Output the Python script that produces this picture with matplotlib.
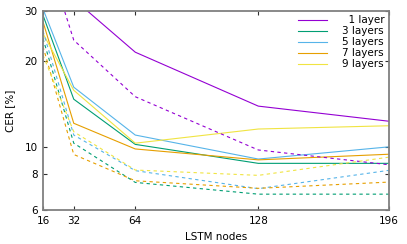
import matplotlib
matplotlib.use("Agg")
import matplotlib.pyplot as plt
from matplotlib.ticker import FixedLocator, NullLocator, FixedFormatter

# LSTM node counts on the x axis
nodes = [16, 32, 64, 128, 196]

# solid lines (one per depth)
cer_1 = [60.0, 33.0, 21.5, 13.9, 12.3]
cer_3 = [29.0, 14.7, 10.2, 8.75, 8.75]
cer_5 = [30.5, 16.2, 11.0, 9.06, 10.0]
cer_7 = [27.5, 12.1, 9.83, 9.0, 9.42]
cer_9 = [25.0, 15.8, 10.3, 11.55, 11.86]

# dashed lines
cer_1d = [52.0, 23.7, 15.0, 9.75, 8.65]
cer_3d = [24.0, 10.3, 7.5, 6.82, 6.82]
cer_5d = [25.5, 11.0, 8.25, 7.13, 8.27]
cer_7d = [22.5, 9.4, 7.6, 7.15, 7.52]
cer_9d = [21.0, 11.3, 8.29, 7.94, 9.2]

labels = ["  1 layer", "3 layers", "5 layers", "7 layers", "9 layers"]
colors = ["#9400d3", "#009e73", "#56b4e9", "#e69f00", "#f0e442"]

yticks = [6, 8, 10, 20, 30]

fig = plt.figure(figsize=(4.07, 2.44), dpi=100)
ax = fig.add_axes([43 / 407, 1 - 210 / 244, 346 / 407, 199 / 244])

solid = [cer_1, cer_3, cer_5, cer_7, cer_9]
dashed = [cer_1d, cer_3d, cer_5d, cer_7d, cer_9d]

for vals, c, lab in zip(solid, colors, labels):
    ax.plot(nodes, vals, color=c, lw=0.8, label=lab)
for vals, c in zip(dashed, colors):
    ax.plot(nodes, vals, color=c, lw=0.8, dashes=(3, 3))

ax.set_yscale("log")
ax.set_xlim(16, 196)
ax.set_ylim(6, 30)
ax.xaxis.set_major_locator(FixedLocator(nodes))
ax.yaxis.set_major_locator(FixedLocator(yticks))
ax.yaxis.set_major_formatter(FixedFormatter([str(v) for v in yticks]))
ax.yaxis.set_minor_locator(NullLocator())
ax.tick_params(which="both", direction="in", top=True, right=True,
               length=3, width=0.8, labelsize=7.5, color="#303030", pad=4)

for s in ax.spines.values():
    s.set_color("#808080")
    s.set_linewidth(1.3)

ax.set_xlabel("LSTM nodes", fontsize=7.5, labelpad=5)
ax.set_ylabel("CER [%]", fontsize=7.5, labelpad=7)

leg = ax.legend(loc="upper right", frameon=False, fontsize=7.5,
                handlelength=2.7, handletextpad=1.5, labelspacing=0.1,
                borderaxespad=0.1, borderpad=0.3)

fig.savefig("out.png", dpi=100)
